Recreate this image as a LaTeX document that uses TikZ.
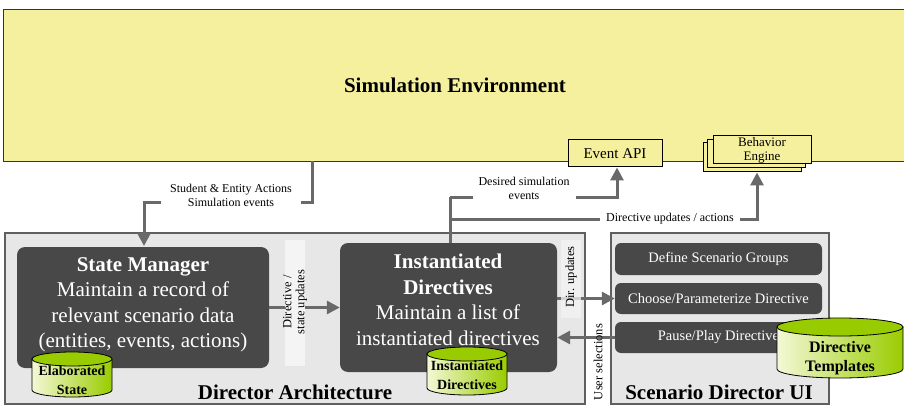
\documentclass[tikz,border=0pt]{standalone}
\usepackage{fontspec}
\setmainfont{Liberation Serif}
\usetikzlibrary{arrows.meta}

\definecolor{simyellow}{RGB}{245,240,157}
\definecolor{archfill}{RGB}{231,231,231}
\definecolor{archline}{RGB}{95,95,95}
\definecolor{darkfill}{RGB}{72,72,72}
\definecolor{stripfill}{RGB}{244,244,244}
\definecolor{connline}{RGB}{105,105,105}
\definecolor{drumgreen}{RGB}{153,204,0}
\definecolor{drumlight}{RGB}{244,248,214}

\tikzset{
  conn/.style={draw=connline, line width=3pt, -{Triangle[width=13pt,length=13pt]}},
  plainconn/.style={draw=connline, line width=3pt},
  panel/.style={draw=archline, line width=2pt, fill=archfill, inner sep=0pt},
  darkbox/.style={fill=darkfill, rounded corners=8pt, inner sep=0pt},
  uibox/.style={fill=darkfill, rounded corners=6pt, inner sep=0pt, text=white,
    font=\fontsize{14.5}{16}\selectfont},
  ybox/.style={fill=simyellow, draw=black, line width=1pt, inner sep=0pt, align=center},
  lbl/.style={fill=white, align=center, font=\fontsize{12}{13.5}\selectfont, inner sep=1pt},
  striptext/.style={rotate=90, align=center, font=\fontsize{12.5}{13}\selectfont},
  whitetext/.style={text=white, align=center},
  drumtext/.style={align=center, font=\bfseries\fontsize{14}{19}\selectfont},
  paneltitle/.style={font=\bfseries\fontsize{21}{24}\selectfont},
}

% green database drum: centre x, top-ellipse centre y, bottom-arc centre y, x radius, y radius
\newcommand\greendrum[5]{%
  \shade[left color=drumlight, right color=drumgreen, draw=black, line width=0.8pt]
    ({#1-#4},#2) -- ({#1-#4},#3)
    arc[start angle=180, end angle=360, x radius=#4, y radius=#5]
    -- ({#1+#4},#2) -- cycle;
  \filldraw[fill=drumgreen, draw=black, line width=0.8pt]
    (#1,#2) ellipse[x radius=#4, y radius=#5];
}

\begin{document}
\begin{tikzpicture}[x=1pt, y=1pt]
\useasboundingbox (0,0) rectangle (904,-406);
\fill[white] (0,0) rectangle (904,-406);

% simulation environment
\node[fill=simyellow, draw=black!80, line width=0.8pt, minimum width=904pt,
      minimum height=152pt, inner sep=0pt,
      font=\bfseries\fontsize{21}{24}\selectfont] (sim) at (455,-85) {Simulation Environment};

\node[ybox, minimum width=94pt, minimum height=27pt,
      font=\fontsize{15}{17}\selectfont] (eventapi) at (615,-153.5) {Event API};

\node[ybox, minimum width=98pt, minimum height=29pt] (beback) at (752,-157.5) {};
\node[ybox, minimum width=98pt, minimum height=28pt] (bemid) at (756,-154) {};
\node[ybox, minimum width=98pt, minimum height=28pt,
      font=\fontsize{13}{14}\selectfont] (behavior) at (762,-150) {Behavior\\Engine};

% panels
\node[panel, minimum width=580pt, minimum height=171pt] (director) at (295,-318.5) {};
\node[panel, minimum width=218pt, minimum height=171pt] (uipanel) at (720,-318.5) {};

% dark component boxes
\node[darkbox, minimum width=252pt, minimum height=121pt] (sm) at (143,-307.5) {};
\node[darkbox, minimum width=217pt, minimum height=129pt] (inst) at (448.5,-307.5) {};

\node[uibox, minimum width=207pt, minimum height=32pt] (groups) at (718.5,-259) {Define Scenario Groups};
\node[uibox, minimum width=207pt, minimum height=31pt] (choose) at (718.5,-298.5) {Choose/Parameterize Directive};
\node[uibox, minimum width=207pt, minimum height=31pt] (pause) at (718.5,-337.5) {Pause/Play Directive};

% connectors
\coordinate (simout) at (312,-161);
\coordinate (simbend) at (312,-202);
\coordinate (smbend) at (144,-202);
\coordinate (smin) at (144,-246);
\draw[conn] (simout) -- (simbend) -- (smbend) -- (smin);
\node[lbl, inner xsep=9pt] (simlbl) at (231,-195.5) {Student \& Entity Actions\\Simulation events};

\coordinate (instout) at (450,-243);
\coordinate (split1) at (450,-197);
\coordinate (split2) at (450,-219);
\coordinate (apibend) at (617,-197);
\coordinate (bebend) at (757,-219);
\draw[plainconn] (instout) -- (split1);
\draw[conn] (split1) -- (apibend) -- (apibend |- eventapi.south);
\draw[conn] (split2) -- (bebend) -- (bebend |- beback.south);
\node[lbl, inner xsep=6pt] (apilbl) at (524,-188.5) {Desired simulation\\events};
\node[lbl, inner xsep=6pt] (belbl) at (670,-218.5) {Directive updates / actions};

\draw[conn] (sm.east) -- (inst.west);
\draw[conn] (inst.east |- choose.west) -- (choose.west);
\draw[conn] (pause.west) -- (pause.west -| inst.east);

% label strips
\node[fill=stripfill, minimum width=20pt, minimum height=126pt, inner sep=0pt] (strip1) at (295,-303) {};
\node[striptext] (strip1txt) at (295,-302) {Directive /\\state updates};
\node[fill=stripfill, fill opacity=0.75, minimum width=20pt, minimum height=78pt, inner sep=0pt] (strip2) at (571,-279) {};
\node[striptext] (strip2txt) at (571,-277) {Dir. updates};
\node[striptext] (usersel) at (598,-362) {User selections};

% component texts
\node[whitetext, font=\fontsize{21}{25.5}\selectfont] (smtxt) at (143,-305)
  {\textbf{State Manager}\\Maintain a record of\\relevant scenario data\\(entities, events, actions)};
\node[whitetext, font=\fontsize{21}{25.5}\selectfont] (insttxt) at (448,-300)
  {\textbf{Instantiated}\\\textbf{Directives}\\Maintain a list of\\instantiated directives};

% databases
\greendrum{72}{-359}{-390}{40}{7}
\node[drumtext] (elab) at (72,-380) {Elaborated\\State};
\greendrum{467}{-354}{-388}{40}{7}
\node[drumtext] (instdb) at (467,-375) {Instantiated\\Directives};
\greendrum{840}{-327}{-369}{63}{9}
\node[drumtext, font=\bfseries\fontsize{16}{19}\selectfont] (templates) at (840,-358) {Directive\\Templates};

% panel titles
\node[paneltitle] (dirtitle) at (295,-392) {Director Architecture};
\node[paneltitle] (uititle) at (719,-392) {Scenario Director UI};
\end{tikzpicture}
\end{document}
